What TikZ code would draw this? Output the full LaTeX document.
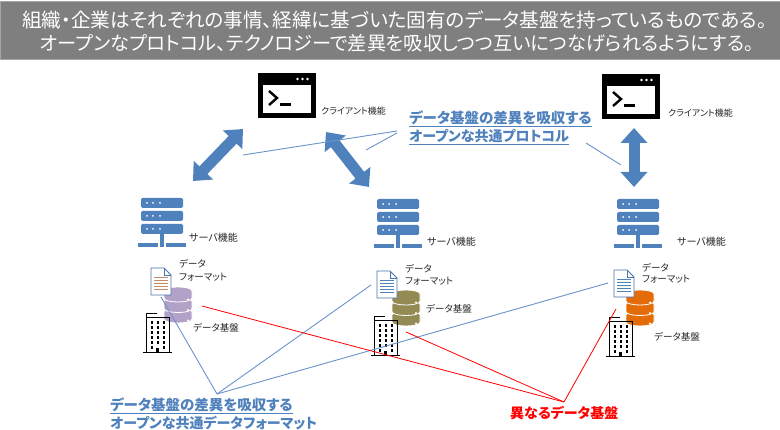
\documentclass[tikz,border=0pt]{standalone}
\usepackage{fontspec}
\setmainfont[RawFeature=+palt]{Noto Sans CJK JP}
\usetikzlibrary{arrows.meta}
\definecolor{hdr}{HTML}{7F7F7F}
\definecolor{acc}{HTML}{4F81BD}
\definecolor{lne}{HTML}{6A94CB}
\definecolor{purp}{HTML}{B3A2C7}
\definecolor{oliv}{HTML}{948A54}
\definecolor{orng}{HTML}{E36C09}
\definecolor{docline}{HTML}{C98A6A}
\tikzset{
 x=1pt,y=-1pt,
 lbl/.style={anchor=west,inner sep=0pt,font=\fontsize{9.5}{11}\selectfont,text=black!85},
 clbl/.style={anchor=west,inner sep=0pt,font=\fontsize{9}{10}\selectfont,text=black!85},
 hd/.style={anchor=west,inner sep=0pt,font=\fontsize{19.6}{20}\selectfont,text=white},
 bluetxt/.style={anchor=west,inner sep=0pt,font=\fontsize{14.5}{16}\bfseries\selectfont,text=acc},
 redtxt/.style={anchor=west,inner sep=0pt,font=\fontsize{14}{16}\bfseries\selectfont,text=red},
 blockarrow/.style={draw=acc,line width=11pt,{Triangle[width=26pt,length=15pt]}-{Triangle[width=26pt,length=15pt]}},
 callout/.style={draw=lne,line width=0.9pt},
 redline/.style={draw=red,line width=0.8pt}
}
\newcommand{\srvicon}[2]{\begin{scope}[shift={(#1,#2)}]
 \foreach \r in {0,13,26}{
  \fill[acc,rounded corners=1.5pt] (-21,\r) rectangle (21,\r+10);
  \foreach \d in {-15,-9,-2}{\fill[white] (\d,\r+5) circle (1pt);}
 }
 \fill[acc] (-1.8,36) rectangle (1.8,45);
 \fill[acc] (-24,45) rectangle (-4,49);
 \fill[acc] (-2,45) rectangle (2,49);
 \fill[acc] (4,45) rectangle (24,49);
\end{scope}}
\newcommand{\termicon}[2]{\begin{scope}[shift={(#1,#2)}]
 \fill[black] (0,0) rectangle (58,45);
 \fill[white] (4.5,12) rectangle (53,40);
 \foreach \d in {39.5,44.5,49.5}{\fill[white] (\d,6) circle (1.4pt);}
 \draw[black,line width=2.4pt,line cap=butt] (11,18) -- (19,25) -- (11,32);
 \fill[black] (22,30.5) rectangle (33,33);
\end{scope}}
\newcommand{\docicon}[3]{\begin{scope}[shift={(#1,#2)}]
 \draw[draw=acc!90!black,fill=white,line width=0.9pt,line join=round] (0,0) -- (13,0) -- (20,7) -- (20,27) -- (0,27) -- cycle;
 \draw[draw=acc!90!black,line width=0.7pt] (13,0) -- (13,7) -- (20,7);
 \foreach \l in {9,12,15,18,21}{\draw[#3,line width=0.8pt] (3,\l) -- (17,\l);}
\end{scope}}
\newcommand{\dbicon}[3]{\begin{scope}[shift={(#1,#2)}]
 \foreach \t in {21,10.5,0}{
  \filldraw[fill=#3,draw=white,line width=0.8pt] (-14,\t+4) .. controls (-14,\t-1.33) and (14,\t-1.33) .. (14,\t+4)
    -- (14,\t+11) .. controls (14,\t+16.33) and (-14,\t+16.33) .. (-14,\t+11) -- cycle;
  \fill[white] (10,\t+12.5) circle (1.1pt);
 }
\end{scope}}
\newcommand{\bldicon}[2]{\begin{scope}[shift={(#1,#2)}]
 \draw[black,line width=1pt] (0,40) -- (29,40);
 \draw[black,line width=1pt] (3,40) -- (3,1) -- (14,1);
 \draw[black,line width=1pt] (3,5) -- (26,5) -- (26,40);
 \foreach \c in {7.5,13.5,19.5}{\foreach \r in {8.5,13.5,18.5,23.5,28.5}{\fill[black] (\c,\r) rectangle (\c+2.6,\r+3);}}
 \fill[black] (13,35) rectangle (16,40);
 \fill[black] (7.5,33.5) rectangle (10.1,36.5);
 \fill[black] (19.5,33.5) rectangle (22.1,36.5);
\end{scope}}
\begin{document}
\begin{tikzpicture}
\useasboundingbox (0,0) rectangle (780,430);
\fill[white] (0,0) rectangle (780,430);
\node[fill=hdr,draw=black!35,line width=0.8pt,minimum width=780pt,minimum height=58pt,inner sep=0pt,anchor=north west] (banner) at (0,1) {};
\node[hd] (h1) at (22,20) {組織・企業はそれぞれの事情、経緯に基づいた固有のデータ基盤を持っているものである。};
\node[hd,font=\fontsize{19.2}{20}\selectfont] (h2) at (40,43) {オープンなプロトコル、テクノロジーで差異を吸収しつつ互いにつなげられるようにする。};
\termicon{258}{73}\termicon{602}{74}
\srvicon{162}{198}\srvicon{398}{199}\srvicon{638}{199}
\dbicon{178}{287}{purp}\dbicon{406}{290}{oliv}\dbicon{640}{290}{orng}
\docicon{151}{268}{docline}\docicon{377}{271}{acc}\docicon{614}{270}{acc}
\bldicon{143}{313}\bldicon{371}{316}\bldicon{606}{317}
\node[clbl] (c1) at (321,111) {クライアント機能};
\node[clbl] (c2) at (668,113) {クライアント機能};
\node[lbl,font=\fontsize{10}{11}\selectfont] (s1) at (189,238) {サーバ機能};
\node[lbl,font=\fontsize{10}{11}\selectfont] (s2) at (427,242) {サーバ機能};
\node[lbl,font=\fontsize{10}{11}\selectfont] (s3) at (677,242) {サーバ機能};
\node[lbl] (f1a) at (179,264) {データ};\node[lbl] (f1b) at (179,277) {フォーマット};
\node[lbl] (f2a) at (405,269) {データ};\node[lbl] (f2b) at (405,281) {フォーマット};
\node[lbl] (f3a) at (642,268) {データ};\node[lbl] (f3b) at (642,279) {フォーマット};
\node[lbl] (d1) at (193,328) {データ基盤};
\node[lbl] (d2) at (426,309) {データ基盤};
\node[lbl] (d3) at (654,337) {データ基盤};
\coordinate (a1s) at (193,181);\coordinate (a1e) at (243,129);
\coordinate (a2s) at (326,132);\coordinate (a2e) at (369,187);
\coordinate (a3s) at (634,128);\coordinate (a3e) at (634,187);
\draw[blockarrow] (a1s) -- (a1e);
\draw[blockarrow] (a2s) -- (a2e);
\draw[blockarrow] (a3s) -- (a3e);
\coordinate (p) at (397,131);\coordinate (pb) at (397,133);\coordinate (pc) at (586,143);
\coordinate (p1) at (243,155);\coordinate (p2) at (366,150);\coordinate (p3) at (621,165);
\draw[callout] (p) -- (p1);
\draw[callout] (pb) -- (p2);
\draw[callout] (pc) -- (p3);
\coordinate (fx) at (217,394);
\coordinate (fd1) at (161,297);\coordinate (fd2) at (371,285);\coordinate (fd3) at (608,283);
\draw[callout] (fx) -- (fd1);
\draw[callout] (fx) -- (fd2);
\draw[callout] (fx) -- (fd3);
\coordinate (rx) at (564,402);
\coordinate (rd1) at (202,306);\coordinate (rd2) at (406,332);\coordinate (rd3) at (616,309);
\draw[redline] (rx) -- (rd1);
\draw[redline] (rx) -- (rd2);
\draw[redline] (rx) -- (rd3);
\node[bluetxt] (t1) at (409,119) {\underline{データ基盤の差異を吸収する}};
\node[bluetxt,font=\fontsize{14}{16}\bfseries\selectfont] (t2) at (409,137) {\underline{オープンな共通プロトコル}};
\node[bluetxt] (t3) at (110,406) {\underline{データ基盤の差異を吸収する}};
\node[bluetxt,font=\fontsize{14}{16}\bfseries\selectfont] (t4) at (110,424) {\underline{オープンな共通データフォーマット}};
\node[redtxt] (t5) at (510,413) {異なるデータ基盤};
\end{tikzpicture}
\end{document}
